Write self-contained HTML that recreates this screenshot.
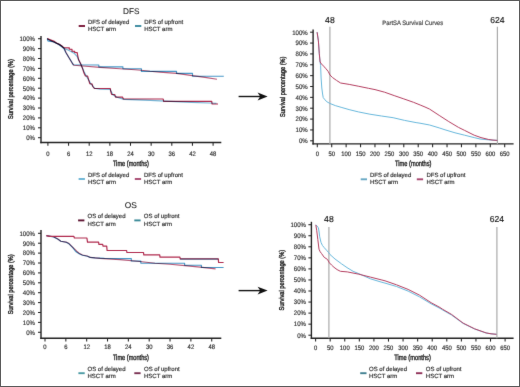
<!DOCTYPE html><html><head><meta charset="utf-8"><style>html,body{margin:0;padding:0;background:#fff;font-family:"Liberation Sans",sans-serif;}svg{display:block;will-change:transform;text-rendering:geometricPrecision;}</style></head><body>
<svg width="520" height="387" viewBox="0 0 520 387" font-family="&quot;Liberation Sans&quot;, sans-serif">
<defs><filter id="bl" color-interpolation-filters="sRGB" filterUnits="userSpaceOnUse" x="0" y="0" width="520" height="387"><feConvolveMatrix order="3" kernelMatrix="0.00524 0.06192 0.00524 0.06192 0.73137 0.06192 0.00524 0.06192 0.00524" divisor="1" edgeMode="duplicate" preserveAlpha="true"/></filter></defs>
<rect x="0" y="0" width="520" height="387" fill="#fff"/>
<g filter="url(#bl)">
<rect x="0" y="0" width="520" height="387" fill="#fff"/>
<text x="131.2" y="13.8" font-size="8.2" text-anchor="middle" fill="#222" stroke="#222" stroke-width="0.1">DFS</text>
<rect x="78.7" y="25.05" width="6.3" height="1.9" fill="#7a1838"/>
<rect x="135.0" y="25.05" width="6.3" height="1.9" fill="#3a8a9f"/>
<text x="87.9" y="24.00" font-size="6.0" text-anchor="start" fill="#2e2e2e" stroke="#2e2e2e" stroke-width="0.17">DFS of delayed</text>
<text x="87.9" y="31.10" font-size="6.0" text-anchor="start" fill="#2e2e2e" stroke="#2e2e2e" stroke-width="0.17">HSCT arm</text>
<text x="144.2" y="24.00" font-size="6.0" text-anchor="start" fill="#2e2e2e" stroke="#2e2e2e" stroke-width="0.17">DFS of upfront</text>
<text x="144.2" y="31.10" font-size="6.0" text-anchor="start" fill="#2e2e2e" stroke="#2e2e2e" stroke-width="0.17">HSCT arm</text>
<line x1="41.0" y1="36.0" x2="41.0" y2="143.2" stroke="#222" stroke-width="1.4"/>
<line x1="40.3" y1="142.5" x2="221.3" y2="142.5" stroke="#222" stroke-width="1.4"/>
<line x1="38" y1="137.70" x2="41.0" y2="137.70" stroke="#222" stroke-width="1.05"/>
<text transform="translate(35.0,140.00) scale(0.92,1)" font-size="6.6" text-anchor="end" fill="#2e2e2e" stroke="#2e2e2e" stroke-width="0.17">0%</text>
<line x1="38" y1="127.80" x2="41.0" y2="127.80" stroke="#222" stroke-width="1.05"/>
<text transform="translate(35.0,130.10) scale(0.92,1)" font-size="6.6" text-anchor="end" fill="#2e2e2e" stroke="#2e2e2e" stroke-width="0.17">10%</text>
<line x1="38" y1="117.90" x2="41.0" y2="117.90" stroke="#222" stroke-width="1.05"/>
<text transform="translate(35.0,120.20) scale(0.92,1)" font-size="6.6" text-anchor="end" fill="#2e2e2e" stroke="#2e2e2e" stroke-width="0.17">20%</text>
<line x1="38" y1="108.00" x2="41.0" y2="108.00" stroke="#222" stroke-width="1.05"/>
<text transform="translate(35.0,110.30) scale(0.92,1)" font-size="6.6" text-anchor="end" fill="#2e2e2e" stroke="#2e2e2e" stroke-width="0.17">30%</text>
<line x1="38" y1="98.10" x2="41.0" y2="98.10" stroke="#222" stroke-width="1.05"/>
<text transform="translate(35.0,100.40) scale(0.92,1)" font-size="6.6" text-anchor="end" fill="#2e2e2e" stroke="#2e2e2e" stroke-width="0.17">40%</text>
<line x1="38" y1="88.20" x2="41.0" y2="88.20" stroke="#222" stroke-width="1.05"/>
<text transform="translate(35.0,90.50) scale(0.92,1)" font-size="6.6" text-anchor="end" fill="#2e2e2e" stroke="#2e2e2e" stroke-width="0.17">50%</text>
<line x1="38" y1="78.30" x2="41.0" y2="78.30" stroke="#222" stroke-width="1.05"/>
<text transform="translate(35.0,80.60) scale(0.92,1)" font-size="6.6" text-anchor="end" fill="#2e2e2e" stroke="#2e2e2e" stroke-width="0.17">60%</text>
<line x1="38" y1="68.40" x2="41.0" y2="68.40" stroke="#222" stroke-width="1.05"/>
<text transform="translate(35.0,70.70) scale(0.92,1)" font-size="6.6" text-anchor="end" fill="#2e2e2e" stroke="#2e2e2e" stroke-width="0.17">70%</text>
<line x1="38" y1="58.50" x2="41.0" y2="58.50" stroke="#222" stroke-width="1.05"/>
<text transform="translate(35.0,60.80) scale(0.92,1)" font-size="6.6" text-anchor="end" fill="#2e2e2e" stroke="#2e2e2e" stroke-width="0.17">80%</text>
<line x1="38" y1="48.60" x2="41.0" y2="48.60" stroke="#222" stroke-width="1.05"/>
<text transform="translate(35.0,50.90) scale(0.92,1)" font-size="6.6" text-anchor="end" fill="#2e2e2e" stroke="#2e2e2e" stroke-width="0.17">90%</text>
<line x1="38" y1="38.70" x2="41.0" y2="38.70" stroke="#222" stroke-width="1.05"/>
<text transform="translate(35.0,41.00) scale(0.92,1)" font-size="6.6" text-anchor="end" fill="#2e2e2e" stroke="#2e2e2e" stroke-width="0.17">100%</text>
<line x1="47.90" y1="142.5" x2="47.90" y2="145.8" stroke="#222" stroke-width="1.05"/>
<text transform="translate(47.90,155.60) scale(0.92,1)" font-size="6.4" text-anchor="middle" fill="#2e2e2e" stroke="#2e2e2e" stroke-width="0.17">0</text>
<line x1="68.55" y1="142.5" x2="68.55" y2="145.8" stroke="#222" stroke-width="1.05"/>
<text transform="translate(68.55,155.60) scale(0.92,1)" font-size="6.4" text-anchor="middle" fill="#2e2e2e" stroke="#2e2e2e" stroke-width="0.17">6</text>
<line x1="89.20" y1="142.5" x2="89.20" y2="145.8" stroke="#222" stroke-width="1.05"/>
<text transform="translate(89.20,155.60) scale(0.92,1)" font-size="6.4" text-anchor="middle" fill="#2e2e2e" stroke="#2e2e2e" stroke-width="0.17">12</text>
<line x1="109.85" y1="142.5" x2="109.85" y2="145.8" stroke="#222" stroke-width="1.05"/>
<text transform="translate(109.85,155.60) scale(0.92,1)" font-size="6.4" text-anchor="middle" fill="#2e2e2e" stroke="#2e2e2e" stroke-width="0.17">18</text>
<line x1="130.50" y1="142.5" x2="130.50" y2="145.8" stroke="#222" stroke-width="1.05"/>
<text transform="translate(130.50,155.60) scale(0.92,1)" font-size="6.4" text-anchor="middle" fill="#2e2e2e" stroke="#2e2e2e" stroke-width="0.17">24</text>
<line x1="151.15" y1="142.5" x2="151.15" y2="145.8" stroke="#222" stroke-width="1.05"/>
<text transform="translate(151.15,155.60) scale(0.92,1)" font-size="6.4" text-anchor="middle" fill="#2e2e2e" stroke="#2e2e2e" stroke-width="0.17">30</text>
<line x1="171.80" y1="142.5" x2="171.80" y2="145.8" stroke="#222" stroke-width="1.05"/>
<text transform="translate(171.80,155.60) scale(0.92,1)" font-size="6.4" text-anchor="middle" fill="#2e2e2e" stroke="#2e2e2e" stroke-width="0.17">36</text>
<line x1="192.45" y1="142.5" x2="192.45" y2="145.8" stroke="#222" stroke-width="1.05"/>
<text transform="translate(192.45,155.60) scale(0.92,1)" font-size="6.4" text-anchor="middle" fill="#2e2e2e" stroke="#2e2e2e" stroke-width="0.17">42</text>
<line x1="213.10" y1="142.5" x2="213.10" y2="145.8" stroke="#222" stroke-width="1.05"/>
<text transform="translate(213.10,155.60) scale(0.92,1)" font-size="6.4" text-anchor="middle" fill="#2e2e2e" stroke="#2e2e2e" stroke-width="0.17">48</text>
<text x="112.9" y="165.80" font-size="7.6" text-anchor="start" fill="#2a2a2a" font-weight="normal" textLength="36.1" lengthAdjust="spacingAndGlyphs" stroke="#222" stroke-width="0.38">Time (months)</text>
<g transform="translate(13.3,89.10) rotate(-90)">
<text x="-30.0" y="0" font-size="7.0" text-anchor="start" fill="#2a2a2a" font-weight="normal" textLength="60" lengthAdjust="spacingAndGlyphs" stroke="#222" stroke-width="0.38">Survival percentage (%)</text>
</g>
<rect x="78.6" y="178.05" width="6.3" height="1.9" fill="#6ab4d4"/>
<rect x="134.8" y="178.05" width="6.3" height="1.9" fill="#a84a72"/>
<text x="87.9" y="177.00" font-size="6.0" text-anchor="start" fill="#2e2e2e" stroke="#2e2e2e" stroke-width="0.17">DFS of delayed</text>
<text x="87.9" y="184.10" font-size="6.0" text-anchor="start" fill="#2e2e2e" stroke="#2e2e2e" stroke-width="0.17">HSCT arm</text>
<text x="144.0" y="177.00" font-size="6.0" text-anchor="start" fill="#2e2e2e" stroke="#2e2e2e" stroke-width="0.17">DFS of upfront</text>
<text x="144.0" y="184.10" font-size="6.0" text-anchor="start" fill="#2e2e2e" stroke="#2e2e2e" stroke-width="0.17">HSCT arm</text>
<line x1="238.6" y1="96.5" x2="261" y2="96.5" stroke="#111" stroke-width="1.4"/>
<path d="M267.6,96.5 L257.6,92.6 L260.2,96.5 L257.6,100.4 Z" fill="#111"/>
<line x1="238.6" y1="290.6" x2="261" y2="290.6" stroke="#111" stroke-width="1.4"/>
<path d="M267.6,290.6 L257.6,286.70000000000005 L260.2,290.6 L257.6,294.5 Z" fill="#111"/>
<text x="382.3" y="24.7" font-size="6.3" text-anchor="start" fill="#3a3a3a" font-weight="normal" textLength="61" lengthAdjust="spacingAndGlyphs" stroke="#3a3a3a" stroke-width="0.15">PartSA Survival Curves</text>
<line x1="313.1" y1="29.4" x2="313.1" y2="144.6" stroke="#222" stroke-width="1.4"/>
<line x1="312.40000000000003" y1="143.9" x2="513.6" y2="143.9" stroke="#222" stroke-width="1.4"/>
<line x1="310.1" y1="140.80" x2="313.1" y2="140.80" stroke="#222" stroke-width="1.05"/>
<text transform="translate(307.70,143.10) scale(0.92,1)" font-size="6.6" text-anchor="end" fill="#2e2e2e" stroke="#2e2e2e" stroke-width="0.17">0%</text>
<line x1="310.1" y1="129.94" x2="313.1" y2="129.94" stroke="#222" stroke-width="1.05"/>
<text transform="translate(307.70,132.24) scale(0.92,1)" font-size="6.6" text-anchor="end" fill="#2e2e2e" stroke="#2e2e2e" stroke-width="0.17">10%</text>
<line x1="310.1" y1="119.08" x2="313.1" y2="119.08" stroke="#222" stroke-width="1.05"/>
<text transform="translate(307.70,121.38) scale(0.92,1)" font-size="6.6" text-anchor="end" fill="#2e2e2e" stroke="#2e2e2e" stroke-width="0.17">20%</text>
<line x1="310.1" y1="108.22" x2="313.1" y2="108.22" stroke="#222" stroke-width="1.05"/>
<text transform="translate(307.70,110.52) scale(0.92,1)" font-size="6.6" text-anchor="end" fill="#2e2e2e" stroke="#2e2e2e" stroke-width="0.17">30%</text>
<line x1="310.1" y1="97.36" x2="313.1" y2="97.36" stroke="#222" stroke-width="1.05"/>
<text transform="translate(307.70,99.66) scale(0.92,1)" font-size="6.6" text-anchor="end" fill="#2e2e2e" stroke="#2e2e2e" stroke-width="0.17">40%</text>
<line x1="310.1" y1="86.50" x2="313.1" y2="86.50" stroke="#222" stroke-width="1.05"/>
<text transform="translate(307.70,88.80) scale(0.92,1)" font-size="6.6" text-anchor="end" fill="#2e2e2e" stroke="#2e2e2e" stroke-width="0.17">50%</text>
<line x1="310.1" y1="75.64" x2="313.1" y2="75.64" stroke="#222" stroke-width="1.05"/>
<text transform="translate(307.70,77.94) scale(0.92,1)" font-size="6.6" text-anchor="end" fill="#2e2e2e" stroke="#2e2e2e" stroke-width="0.17">60%</text>
<line x1="310.1" y1="64.78" x2="313.1" y2="64.78" stroke="#222" stroke-width="1.05"/>
<text transform="translate(307.70,67.08) scale(0.92,1)" font-size="6.6" text-anchor="end" fill="#2e2e2e" stroke="#2e2e2e" stroke-width="0.17">70%</text>
<line x1="310.1" y1="53.92" x2="313.1" y2="53.92" stroke="#222" stroke-width="1.05"/>
<text transform="translate(307.70,56.22) scale(0.92,1)" font-size="6.6" text-anchor="end" fill="#2e2e2e" stroke="#2e2e2e" stroke-width="0.17">80%</text>
<line x1="310.1" y1="43.06" x2="313.1" y2="43.06" stroke="#222" stroke-width="1.05"/>
<text transform="translate(307.70,45.36) scale(0.92,1)" font-size="6.6" text-anchor="end" fill="#2e2e2e" stroke="#2e2e2e" stroke-width="0.17">90%</text>
<line x1="310.1" y1="32.20" x2="313.1" y2="32.20" stroke="#222" stroke-width="1.05"/>
<text transform="translate(307.70,34.50) scale(0.92,1)" font-size="6.6" text-anchor="end" fill="#2e2e2e" stroke="#2e2e2e" stroke-width="0.17">100%</text>
<line x1="317.30" y1="143.9" x2="317.30" y2="147.20000000000002" stroke="#222" stroke-width="1.05"/>
<text transform="translate(317.30,155.60) scale(0.92,1)" font-size="6.4" text-anchor="middle" fill="#2e2e2e" stroke="#2e2e2e" stroke-width="0.17">0</text>
<line x1="331.72" y1="143.9" x2="331.72" y2="147.20000000000002" stroke="#222" stroke-width="1.05"/>
<text transform="translate(331.72,155.60) scale(0.92,1)" font-size="6.4" text-anchor="middle" fill="#2e2e2e" stroke="#2e2e2e" stroke-width="0.17">50</text>
<line x1="346.13" y1="143.9" x2="346.13" y2="147.20000000000002" stroke="#222" stroke-width="1.05"/>
<text transform="translate(346.13,155.60) scale(0.92,1)" font-size="6.4" text-anchor="middle" fill="#2e2e2e" stroke="#2e2e2e" stroke-width="0.17">100</text>
<line x1="360.55" y1="143.9" x2="360.55" y2="147.20000000000002" stroke="#222" stroke-width="1.05"/>
<text transform="translate(360.55,155.60) scale(0.92,1)" font-size="6.4" text-anchor="middle" fill="#2e2e2e" stroke="#2e2e2e" stroke-width="0.17">150</text>
<line x1="374.96" y1="143.9" x2="374.96" y2="147.20000000000002" stroke="#222" stroke-width="1.05"/>
<text transform="translate(374.96,155.60) scale(0.92,1)" font-size="6.4" text-anchor="middle" fill="#2e2e2e" stroke="#2e2e2e" stroke-width="0.17">200</text>
<line x1="389.38" y1="143.9" x2="389.38" y2="147.20000000000002" stroke="#222" stroke-width="1.05"/>
<text transform="translate(389.38,155.60) scale(0.92,1)" font-size="6.4" text-anchor="middle" fill="#2e2e2e" stroke="#2e2e2e" stroke-width="0.17">250</text>
<line x1="403.79" y1="143.9" x2="403.79" y2="147.20000000000002" stroke="#222" stroke-width="1.05"/>
<text transform="translate(403.79,155.60) scale(0.92,1)" font-size="6.4" text-anchor="middle" fill="#2e2e2e" stroke="#2e2e2e" stroke-width="0.17">300</text>
<line x1="418.21" y1="143.9" x2="418.21" y2="147.20000000000002" stroke="#222" stroke-width="1.05"/>
<text transform="translate(418.21,155.60) scale(0.92,1)" font-size="6.4" text-anchor="middle" fill="#2e2e2e" stroke="#2e2e2e" stroke-width="0.17">350</text>
<line x1="432.62" y1="143.9" x2="432.62" y2="147.20000000000002" stroke="#222" stroke-width="1.05"/>
<text transform="translate(432.62,155.60) scale(0.92,1)" font-size="6.4" text-anchor="middle" fill="#2e2e2e" stroke="#2e2e2e" stroke-width="0.17">400</text>
<line x1="447.04" y1="143.9" x2="447.04" y2="147.20000000000002" stroke="#222" stroke-width="1.05"/>
<text transform="translate(447.04,155.60) scale(0.92,1)" font-size="6.4" text-anchor="middle" fill="#2e2e2e" stroke="#2e2e2e" stroke-width="0.17">450</text>
<line x1="461.45" y1="143.9" x2="461.45" y2="147.20000000000002" stroke="#222" stroke-width="1.05"/>
<text transform="translate(461.45,155.60) scale(0.92,1)" font-size="6.4" text-anchor="middle" fill="#2e2e2e" stroke="#2e2e2e" stroke-width="0.17">500</text>
<line x1="475.87" y1="143.9" x2="475.87" y2="147.20000000000002" stroke="#222" stroke-width="1.05"/>
<text transform="translate(475.87,155.60) scale(0.92,1)" font-size="6.4" text-anchor="middle" fill="#2e2e2e" stroke="#2e2e2e" stroke-width="0.17">550</text>
<line x1="490.28" y1="143.9" x2="490.28" y2="147.20000000000002" stroke="#222" stroke-width="1.05"/>
<text transform="translate(490.28,155.60) scale(0.92,1)" font-size="6.4" text-anchor="middle" fill="#2e2e2e" stroke="#2e2e2e" stroke-width="0.17">600</text>
<line x1="504.70" y1="143.9" x2="504.70" y2="147.20000000000002" stroke="#222" stroke-width="1.05"/>
<text transform="translate(504.70,155.60) scale(0.92,1)" font-size="6.4" text-anchor="middle" fill="#2e2e2e" stroke="#2e2e2e" stroke-width="0.17">650</text>
<line x1="329.9" y1="26.8" x2="329.9" y2="143.9" stroke="#aaaaaa" stroke-width="1.2"/>
<line x1="497.4" y1="26.8" x2="497.4" y2="143.9" stroke="#aaaaaa" stroke-width="1.2"/>
<text x="329.9" y="22.70" font-size="8.6" text-anchor="middle" fill="#1a1a1a" stroke="#1a1a1a" stroke-width="0.15">48</text>
<text x="497.4" y="22.70" font-size="8.6" text-anchor="middle" fill="#1a1a1a" stroke="#1a1a1a" stroke-width="0.15">624</text>
<text x="395.0" y="165.50" font-size="7.6" text-anchor="start" fill="#2a2a2a" font-weight="normal" textLength="36.5" lengthAdjust="spacingAndGlyphs" stroke="#222" stroke-width="0.38">Time (months)</text>
<g transform="translate(285.00,86.75) rotate(-90)">
<text x="-30.25" y="0" font-size="7.0" text-anchor="start" fill="#2a2a2a" font-weight="normal" textLength="60.5" lengthAdjust="spacingAndGlyphs" stroke="#222" stroke-width="0.38">Survival percentage (%)</text>
</g>
<rect x="360.7" y="178.35" width="6.3" height="1.9" fill="#68a8c4"/>
<rect x="416.8" y="178.35" width="6.3" height="1.9" fill="#a84870"/>
<text x="369.9" y="177.30" font-size="6.0" text-anchor="start" fill="#2e2e2e" stroke="#2e2e2e" stroke-width="0.17">DFS of delayed</text>
<text x="369.9" y="184.40" font-size="6.0" text-anchor="start" fill="#2e2e2e" stroke="#2e2e2e" stroke-width="0.17">HSCT arm</text>
<text x="426.4" y="177.30" font-size="6.0" text-anchor="start" fill="#2e2e2e" stroke="#2e2e2e" stroke-width="0.17">DFS of upfront</text>
<text x="426.4" y="184.40" font-size="6.0" text-anchor="start" fill="#2e2e2e" stroke="#2e2e2e" stroke-width="0.17">HSCT arm</text>
<text x="130.7" y="207.6" font-size="8.4" text-anchor="middle" fill="#222" stroke="#222" stroke-width="0.1">OS</text>
<rect x="78.1" y="219.45" width="6.3" height="1.9" fill="#5e1432"/>
<rect x="134.3" y="219.45" width="6.3" height="1.9" fill="#3a8a98"/>
<text x="87.5" y="218.40" font-size="6.0" text-anchor="start" fill="#2e2e2e" stroke="#2e2e2e" stroke-width="0.17">OS of delayed</text>
<text x="87.5" y="225.50" font-size="6.0" text-anchor="start" fill="#2e2e2e" stroke="#2e2e2e" stroke-width="0.17">HSCT arm</text>
<text x="143.8" y="218.40" font-size="6.0" text-anchor="start" fill="#2e2e2e" stroke="#2e2e2e" stroke-width="0.17">OS of upfront</text>
<text x="143.8" y="225.50" font-size="6.0" text-anchor="start" fill="#2e2e2e" stroke="#2e2e2e" stroke-width="0.17">HSCT arm</text>
<line x1="41.0" y1="229.9" x2="41.0" y2="338.9" stroke="#222" stroke-width="1.4"/>
<line x1="40.3" y1="338.2" x2="221.3" y2="338.2" stroke="#222" stroke-width="1.4"/>
<line x1="38" y1="332.30" x2="41.0" y2="332.30" stroke="#222" stroke-width="1.05"/>
<text transform="translate(35.0,334.60) scale(0.92,1)" font-size="6.6" text-anchor="end" fill="#2e2e2e" stroke="#2e2e2e" stroke-width="0.17">0%</text>
<line x1="38" y1="322.40" x2="41.0" y2="322.40" stroke="#222" stroke-width="1.05"/>
<text transform="translate(35.0,324.70) scale(0.92,1)" font-size="6.6" text-anchor="end" fill="#2e2e2e" stroke="#2e2e2e" stroke-width="0.17">10%</text>
<line x1="38" y1="312.50" x2="41.0" y2="312.50" stroke="#222" stroke-width="1.05"/>
<text transform="translate(35.0,314.80) scale(0.92,1)" font-size="6.6" text-anchor="end" fill="#2e2e2e" stroke="#2e2e2e" stroke-width="0.17">20%</text>
<line x1="38" y1="302.60" x2="41.0" y2="302.60" stroke="#222" stroke-width="1.05"/>
<text transform="translate(35.0,304.90) scale(0.92,1)" font-size="6.6" text-anchor="end" fill="#2e2e2e" stroke="#2e2e2e" stroke-width="0.17">30%</text>
<line x1="38" y1="292.70" x2="41.0" y2="292.70" stroke="#222" stroke-width="1.05"/>
<text transform="translate(35.0,295.00) scale(0.92,1)" font-size="6.6" text-anchor="end" fill="#2e2e2e" stroke="#2e2e2e" stroke-width="0.17">40%</text>
<line x1="38" y1="282.80" x2="41.0" y2="282.80" stroke="#222" stroke-width="1.05"/>
<text transform="translate(35.0,285.10) scale(0.92,1)" font-size="6.6" text-anchor="end" fill="#2e2e2e" stroke="#2e2e2e" stroke-width="0.17">50%</text>
<line x1="38" y1="272.90" x2="41.0" y2="272.90" stroke="#222" stroke-width="1.05"/>
<text transform="translate(35.0,275.20) scale(0.92,1)" font-size="6.6" text-anchor="end" fill="#2e2e2e" stroke="#2e2e2e" stroke-width="0.17">60%</text>
<line x1="38" y1="263.00" x2="41.0" y2="263.00" stroke="#222" stroke-width="1.05"/>
<text transform="translate(35.0,265.30) scale(0.92,1)" font-size="6.6" text-anchor="end" fill="#2e2e2e" stroke="#2e2e2e" stroke-width="0.17">70%</text>
<line x1="38" y1="253.10" x2="41.0" y2="253.10" stroke="#222" stroke-width="1.05"/>
<text transform="translate(35.0,255.40) scale(0.92,1)" font-size="6.6" text-anchor="end" fill="#2e2e2e" stroke="#2e2e2e" stroke-width="0.17">80%</text>
<line x1="38" y1="243.20" x2="41.0" y2="243.20" stroke="#222" stroke-width="1.05"/>
<text transform="translate(35.0,245.50) scale(0.92,1)" font-size="6.6" text-anchor="end" fill="#2e2e2e" stroke="#2e2e2e" stroke-width="0.17">90%</text>
<line x1="38" y1="233.30" x2="41.0" y2="233.30" stroke="#222" stroke-width="1.05"/>
<text transform="translate(35.0,235.60) scale(0.92,1)" font-size="6.6" text-anchor="end" fill="#2e2e2e" stroke="#2e2e2e" stroke-width="0.17">100%</text>
<line x1="45.00" y1="338.2" x2="45.00" y2="341.5" stroke="#222" stroke-width="1.05"/>
<text transform="translate(45.00,349.40) scale(0.92,1)" font-size="6.4" text-anchor="middle" fill="#2e2e2e" stroke="#2e2e2e" stroke-width="0.17">0</text>
<line x1="65.84" y1="338.2" x2="65.84" y2="341.5" stroke="#222" stroke-width="1.05"/>
<text transform="translate(65.84,349.40) scale(0.92,1)" font-size="6.4" text-anchor="middle" fill="#2e2e2e" stroke="#2e2e2e" stroke-width="0.17">6</text>
<line x1="86.68" y1="338.2" x2="86.68" y2="341.5" stroke="#222" stroke-width="1.05"/>
<text transform="translate(86.68,349.40) scale(0.92,1)" font-size="6.4" text-anchor="middle" fill="#2e2e2e" stroke="#2e2e2e" stroke-width="0.17">12</text>
<line x1="107.52" y1="338.2" x2="107.52" y2="341.5" stroke="#222" stroke-width="1.05"/>
<text transform="translate(107.52,349.40) scale(0.92,1)" font-size="6.4" text-anchor="middle" fill="#2e2e2e" stroke="#2e2e2e" stroke-width="0.17">18</text>
<line x1="128.36" y1="338.2" x2="128.36" y2="341.5" stroke="#222" stroke-width="1.05"/>
<text transform="translate(128.36,349.40) scale(0.92,1)" font-size="6.4" text-anchor="middle" fill="#2e2e2e" stroke="#2e2e2e" stroke-width="0.17">24</text>
<line x1="149.20" y1="338.2" x2="149.20" y2="341.5" stroke="#222" stroke-width="1.05"/>
<text transform="translate(149.20,349.40) scale(0.92,1)" font-size="6.4" text-anchor="middle" fill="#2e2e2e" stroke="#2e2e2e" stroke-width="0.17">30</text>
<line x1="170.04" y1="338.2" x2="170.04" y2="341.5" stroke="#222" stroke-width="1.05"/>
<text transform="translate(170.04,349.40) scale(0.92,1)" font-size="6.4" text-anchor="middle" fill="#2e2e2e" stroke="#2e2e2e" stroke-width="0.17">36</text>
<line x1="190.88" y1="338.2" x2="190.88" y2="341.5" stroke="#222" stroke-width="1.05"/>
<text transform="translate(190.88,349.40) scale(0.92,1)" font-size="6.4" text-anchor="middle" fill="#2e2e2e" stroke="#2e2e2e" stroke-width="0.17">42</text>
<line x1="211.72" y1="338.2" x2="211.72" y2="341.5" stroke="#222" stroke-width="1.05"/>
<text transform="translate(211.72,349.40) scale(0.92,1)" font-size="6.4" text-anchor="middle" fill="#2e2e2e" stroke="#2e2e2e" stroke-width="0.17">48</text>
<text x="112.9" y="360.00" font-size="7.6" text-anchor="start" fill="#2a2a2a" font-weight="normal" textLength="36.1" lengthAdjust="spacingAndGlyphs" stroke="#222" stroke-width="0.38">Time (months)</text>
<g transform="translate(13.3,284.30) rotate(-90)">
<text x="-30.0" y="0" font-size="7.0" text-anchor="start" fill="#2a2a2a" font-weight="normal" textLength="60" lengthAdjust="spacingAndGlyphs" stroke="#222" stroke-width="0.38">Survival percentage (%)</text>
</g>
<rect x="78.4" y="372.25" width="6.3" height="1.9" fill="#4a9aa4"/>
<rect x="134.3" y="372.25" width="6.3" height="1.9" fill="#7a3052"/>
<text x="87.5" y="371.20" font-size="6.0" text-anchor="start" fill="#2e2e2e" stroke="#2e2e2e" stroke-width="0.17">OS of delayed</text>
<text x="87.5" y="378.30" font-size="6.0" text-anchor="start" fill="#2e2e2e" stroke="#2e2e2e" stroke-width="0.17">HSCT arm</text>
<text x="144.0" y="371.20" font-size="6.0" text-anchor="start" fill="#2e2e2e" stroke="#2e2e2e" stroke-width="0.17">OS of upfront</text>
<text x="144.0" y="378.30" font-size="6.0" text-anchor="start" fill="#2e2e2e" stroke="#2e2e2e" stroke-width="0.17">HSCT arm</text>
<line x1="311.4" y1="221.8" x2="311.4" y2="339.0" stroke="#222" stroke-width="1.4"/>
<line x1="310.7" y1="338.3" x2="513.6" y2="338.3" stroke="#222" stroke-width="1.4"/>
<line x1="308.4" y1="335.20" x2="311.4" y2="335.20" stroke="#222" stroke-width="1.05"/>
<text transform="translate(306.00,337.50) scale(0.92,1)" font-size="6.6" text-anchor="end" fill="#2e2e2e" stroke="#2e2e2e" stroke-width="0.17">0%</text>
<line x1="308.4" y1="324.15" x2="311.4" y2="324.15" stroke="#222" stroke-width="1.05"/>
<text transform="translate(306.00,326.45) scale(0.92,1)" font-size="6.6" text-anchor="end" fill="#2e2e2e" stroke="#2e2e2e" stroke-width="0.17">10%</text>
<line x1="308.4" y1="313.10" x2="311.4" y2="313.10" stroke="#222" stroke-width="1.05"/>
<text transform="translate(306.00,315.40) scale(0.92,1)" font-size="6.6" text-anchor="end" fill="#2e2e2e" stroke="#2e2e2e" stroke-width="0.17">20%</text>
<line x1="308.4" y1="302.05" x2="311.4" y2="302.05" stroke="#222" stroke-width="1.05"/>
<text transform="translate(306.00,304.35) scale(0.92,1)" font-size="6.6" text-anchor="end" fill="#2e2e2e" stroke="#2e2e2e" stroke-width="0.17">30%</text>
<line x1="308.4" y1="291.00" x2="311.4" y2="291.00" stroke="#222" stroke-width="1.05"/>
<text transform="translate(306.00,293.30) scale(0.92,1)" font-size="6.6" text-anchor="end" fill="#2e2e2e" stroke="#2e2e2e" stroke-width="0.17">40%</text>
<line x1="308.4" y1="279.95" x2="311.4" y2="279.95" stroke="#222" stroke-width="1.05"/>
<text transform="translate(306.00,282.25) scale(0.92,1)" font-size="6.6" text-anchor="end" fill="#2e2e2e" stroke="#2e2e2e" stroke-width="0.17">50%</text>
<line x1="308.4" y1="268.90" x2="311.4" y2="268.90" stroke="#222" stroke-width="1.05"/>
<text transform="translate(306.00,271.20) scale(0.92,1)" font-size="6.6" text-anchor="end" fill="#2e2e2e" stroke="#2e2e2e" stroke-width="0.17">60%</text>
<line x1="308.4" y1="257.85" x2="311.4" y2="257.85" stroke="#222" stroke-width="1.05"/>
<text transform="translate(306.00,260.15) scale(0.92,1)" font-size="6.6" text-anchor="end" fill="#2e2e2e" stroke="#2e2e2e" stroke-width="0.17">70%</text>
<line x1="308.4" y1="246.80" x2="311.4" y2="246.80" stroke="#222" stroke-width="1.05"/>
<text transform="translate(306.00,249.10) scale(0.92,1)" font-size="6.6" text-anchor="end" fill="#2e2e2e" stroke="#2e2e2e" stroke-width="0.17">80%</text>
<line x1="308.4" y1="235.75" x2="311.4" y2="235.75" stroke="#222" stroke-width="1.05"/>
<text transform="translate(306.00,238.05) scale(0.92,1)" font-size="6.6" text-anchor="end" fill="#2e2e2e" stroke="#2e2e2e" stroke-width="0.17">90%</text>
<line x1="308.4" y1="224.70" x2="311.4" y2="224.70" stroke="#222" stroke-width="1.05"/>
<text transform="translate(306.00,227.00) scale(0.92,1)" font-size="6.6" text-anchor="end" fill="#2e2e2e" stroke="#2e2e2e" stroke-width="0.17">100%</text>
<line x1="315.60" y1="338.3" x2="315.60" y2="341.6" stroke="#222" stroke-width="1.05"/>
<text transform="translate(315.60,350.00) scale(0.92,1)" font-size="6.4" text-anchor="middle" fill="#2e2e2e" stroke="#2e2e2e" stroke-width="0.17">0</text>
<line x1="330.18" y1="338.3" x2="330.18" y2="341.6" stroke="#222" stroke-width="1.05"/>
<text transform="translate(330.18,350.00) scale(0.92,1)" font-size="6.4" text-anchor="middle" fill="#2e2e2e" stroke="#2e2e2e" stroke-width="0.17">50</text>
<line x1="344.75" y1="338.3" x2="344.75" y2="341.6" stroke="#222" stroke-width="1.05"/>
<text transform="translate(344.75,350.00) scale(0.92,1)" font-size="6.4" text-anchor="middle" fill="#2e2e2e" stroke="#2e2e2e" stroke-width="0.17">100</text>
<line x1="359.33" y1="338.3" x2="359.33" y2="341.6" stroke="#222" stroke-width="1.05"/>
<text transform="translate(359.33,350.00) scale(0.92,1)" font-size="6.4" text-anchor="middle" fill="#2e2e2e" stroke="#2e2e2e" stroke-width="0.17">150</text>
<line x1="373.91" y1="338.3" x2="373.91" y2="341.6" stroke="#222" stroke-width="1.05"/>
<text transform="translate(373.91,350.00) scale(0.92,1)" font-size="6.4" text-anchor="middle" fill="#2e2e2e" stroke="#2e2e2e" stroke-width="0.17">200</text>
<line x1="388.48" y1="338.3" x2="388.48" y2="341.6" stroke="#222" stroke-width="1.05"/>
<text transform="translate(388.48,350.00) scale(0.92,1)" font-size="6.4" text-anchor="middle" fill="#2e2e2e" stroke="#2e2e2e" stroke-width="0.17">250</text>
<line x1="403.06" y1="338.3" x2="403.06" y2="341.6" stroke="#222" stroke-width="1.05"/>
<text transform="translate(403.06,350.00) scale(0.92,1)" font-size="6.4" text-anchor="middle" fill="#2e2e2e" stroke="#2e2e2e" stroke-width="0.17">300</text>
<line x1="417.64" y1="338.3" x2="417.64" y2="341.6" stroke="#222" stroke-width="1.05"/>
<text transform="translate(417.64,350.00) scale(0.92,1)" font-size="6.4" text-anchor="middle" fill="#2e2e2e" stroke="#2e2e2e" stroke-width="0.17">350</text>
<line x1="432.22" y1="338.3" x2="432.22" y2="341.6" stroke="#222" stroke-width="1.05"/>
<text transform="translate(432.22,350.00) scale(0.92,1)" font-size="6.4" text-anchor="middle" fill="#2e2e2e" stroke="#2e2e2e" stroke-width="0.17">400</text>
<line x1="446.79" y1="338.3" x2="446.79" y2="341.6" stroke="#222" stroke-width="1.05"/>
<text transform="translate(446.79,350.00) scale(0.92,1)" font-size="6.4" text-anchor="middle" fill="#2e2e2e" stroke="#2e2e2e" stroke-width="0.17">450</text>
<line x1="461.37" y1="338.3" x2="461.37" y2="341.6" stroke="#222" stroke-width="1.05"/>
<text transform="translate(461.37,350.00) scale(0.92,1)" font-size="6.4" text-anchor="middle" fill="#2e2e2e" stroke="#2e2e2e" stroke-width="0.17">500</text>
<line x1="475.95" y1="338.3" x2="475.95" y2="341.6" stroke="#222" stroke-width="1.05"/>
<text transform="translate(475.95,350.00) scale(0.92,1)" font-size="6.4" text-anchor="middle" fill="#2e2e2e" stroke="#2e2e2e" stroke-width="0.17">550</text>
<line x1="490.52" y1="338.3" x2="490.52" y2="341.6" stroke="#222" stroke-width="1.05"/>
<text transform="translate(490.52,350.00) scale(0.92,1)" font-size="6.4" text-anchor="middle" fill="#2e2e2e" stroke="#2e2e2e" stroke-width="0.17">600</text>
<line x1="505.10" y1="338.3" x2="505.10" y2="341.6" stroke="#222" stroke-width="1.05"/>
<text transform="translate(505.10,350.00) scale(0.92,1)" font-size="6.4" text-anchor="middle" fill="#2e2e2e" stroke="#2e2e2e" stroke-width="0.17">650</text>
<line x1="328.9" y1="227.1" x2="328.9" y2="338.3" stroke="#aaaaaa" stroke-width="1.2"/>
<line x1="496.9" y1="227.1" x2="496.9" y2="338.3" stroke="#aaaaaa" stroke-width="1.2"/>
<text x="328.9" y="222.10" font-size="8.6" text-anchor="middle" fill="#1a1a1a" stroke="#1a1a1a" stroke-width="0.15">48</text>
<text x="496.9" y="222.10" font-size="8.6" text-anchor="middle" fill="#1a1a1a" stroke="#1a1a1a" stroke-width="0.15">624</text>
<text x="394.3" y="359.90" font-size="7.6" text-anchor="start" fill="#2a2a2a" font-weight="normal" textLength="36.5" lengthAdjust="spacingAndGlyphs" stroke="#222" stroke-width="0.38">Time (months)</text>
<g transform="translate(283.90,280.15) rotate(-90)">
<text x="-30.25" y="0" font-size="7.0" text-anchor="start" fill="#2a2a2a" font-weight="normal" textLength="60.5" lengthAdjust="spacingAndGlyphs" stroke="#222" stroke-width="0.38">Survival percentage (%)</text>
</g>
<rect x="360.2" y="372.25" width="6.3" height="1.9" fill="#3f7f90"/>
<rect x="416.0" y="372.25" width="6.3" height="1.9" fill="#903058"/>
<text x="369.0" y="371.20" font-size="6.0" text-anchor="start" fill="#2e2e2e" stroke="#2e2e2e" stroke-width="0.17">OS of delayed</text>
<text x="369.0" y="378.30" font-size="6.0" text-anchor="start" fill="#2e2e2e" stroke="#2e2e2e" stroke-width="0.17">HSCT arm</text>
<text x="425.8" y="371.20" font-size="6.0" text-anchor="start" fill="#2e2e2e" stroke="#2e2e2e" stroke-width="0.17">OS of upfront</text>
<text x="425.8" y="378.30" font-size="6.0" text-anchor="start" fill="#2e2e2e" stroke="#2e2e2e" stroke-width="0.17">HSCT arm</text>
<polyline points="47.3,39.0 52.0,41.2 58.0,44.0 63.5,48.2 67.0,49.6 71.0,51.6 74.5,53.6 77.2,56.5 78.8,60.2 81.0,64.8 84.0,71.5 86.5,76.5 89.0,80.5 91.0,84.0 94.5,88.2 100.0,89.2 110.0,89.5 113.0,94.8 117.0,97.3 124.0,99.4 150.0,100.4 191.5,102.4 208.8,103.0 216.5,103.3" fill="none" stroke="#74b6d6" stroke-width="1.15" stroke-linejoin="round" style="mix-blend-mode:multiply"/>
<polyline points="47.3,38.7 52.0,41.2 56.5,43.2 61.7,46.0 64.0,48.0 66.0,52.5 69.0,57.8 72.0,62.8 74.0,65.3 80.0,65.8 100.0,67.4 120.0,68.7 135.0,69.7 141.0,70.3 150.0,71.3 160.0,72.1 176.5,73.4 192.5,75.6 205.0,77.4 217.0,79.2" fill="none" stroke="#b85a78" stroke-width="1.15" stroke-linejoin="round" style="mix-blend-mode:multiply"/>
<polyline points="47.3,38.5 47.9,40.9 50.5,41.4 53.7,41.8 56.5,43.3 59.4,44.5 61.7,46.2 63.5,47.6 65.8,52.5 68.9,57.5 72.0,62.5 73.2,64.8 98.8,65.0 98.8,66.8 122.9,66.8 122.9,68.6 141.4,68.7 141.4,71.3 176.5,71.3 176.5,73.4 192.5,73.4 192.5,76.1 223.8,76.3" fill="none" stroke="#4898c8" stroke-width="1.15" stroke-linejoin="round" style="mix-blend-mode:multiply"/>
<polyline points="47.3,38.5 49.6,39.6 53.7,41.1 56.5,43.1 59.4,44.2 61.7,46.0 63.5,47.6 69.3,47.8 69.3,49.2 72.0,49.4 72.0,51.2 74.7,51.4 74.7,52.5 77.2,52.7 77.6,55.0 78.5,59.5 80.8,64.0 82.6,68.6 84.0,73.1 85.3,75.8 87.6,76.2 88.5,79.4 89.8,83.6 92.1,84.1 92.8,86.5 94.4,88.5 110.3,88.5 110.8,91.5 111.6,94.4 114.8,94.6 115.5,97.1 122.5,97.1 123.3,99.0 163.2,99.0 163.6,101.3 211.7,101.3 212.1,104.0 218.0,104.0" fill="none" stroke="#b02a4e" stroke-width="1.2" stroke-linejoin="round" style="mix-blend-mode:multiply"/>
<polyline points="317.1,32.2 318.4,40.9 319.3,53.8 320.1,62.0 320.6,65.5 321.1,78.0 321.8,88.0 322.6,94.0 323.2,97.5 324.9,99.8 327.0,101.8 329.5,103.3 335.3,105.6 341.1,107.3 349.1,109.6 358.4,111.9 369.9,114.2 381.5,116.0 393.1,117.7 404.6,120.4 416.1,122.6 420.0,123.2 429.6,125.0 439.2,127.9 445.0,129.8 455.0,132.8 464.6,135.2 474.2,137.6 480.0,139.0 486.0,139.6 492.0,140.1 497.3,140.4" fill="none" stroke="#68b8dc" stroke-width="1.0" stroke-linejoin="round" />
<polyline points="317.1,32.2 318.4,40.9 319.3,53.8 320.1,62.0 321.5,64.0 323.6,66.1 326.0,68.8 328.1,71.3 330.0,75.0 332.6,77.6 336.5,80.4 340.6,83.0 349.2,84.4 358.8,86.3 368.5,88.3 375.0,89.6 384.6,92.2 394.2,95.6 403.8,98.9 413.5,102.3 420.2,105.0 425.0,107.0 429.6,109.1 439.2,115.4 448.8,121.6 455.0,125.3 458.5,127.4 464.6,130.4 474.2,135.2 481.0,137.6 488.7,139.5 493.0,140.1 497.3,140.4" fill="none" stroke="#b43e60" stroke-width="1.0" stroke-linejoin="round" />
<polyline points="46.4,235.8 53.6,236.8 57.5,238.8 60.8,241.2 66.1,242.1 69.0,243.6 72.8,247.3 76.7,251.2 79.6,253.6 82.5,255.0 87.3,256.0 90.2,257.4 100.0,258.4 120.0,259.6 140.0,261.5 155.0,263.2 170.0,264.3 185.0,265.6 200.0,267.1 215.6,268.9" fill="none" stroke="#b85a78" stroke-width="1.15" stroke-linejoin="round" style="mix-blend-mode:multiply"/>
<polyline points="46.4,235.6 53.6,236.9 57.5,238.9 60.8,241.3 66.1,242.3 69.0,243.8 72.8,247.6 75.7,251.5 79.6,254.0 82.5,255.2 87.3,256.2 90.2,257.4 95.0,257.9 104.4,258.4 131.3,258.6 131.3,260.9 140.8,261.1 140.8,263.1 184.6,263.2 184.6,265.1 201.4,265.2 201.4,267.4 223.6,267.5" fill="none" stroke="#4898c8" stroke-width="1.15" stroke-linejoin="round" style="mix-blend-mode:multiply"/>
<polyline points="46.4,235.6 49.8,236.3 73.8,236.3 74.4,238.0 86.9,238.0 87.5,242.1 98.6,242.1 98.9,244.4 102.7,244.4 103.0,246.1 106.7,246.1 107.1,250.5 126.6,250.5 126.9,252.5 143.5,252.5 143.8,254.9 159.7,254.9 160.0,257.1 179.9,257.1 180.2,258.9 218.3,258.9 218.6,262.5 223.6,262.5" fill="none" stroke="#b02a4e" stroke-width="1.2" stroke-linejoin="round" />
<polyline points="180.2,259.1 218.3,259.1" fill="none" stroke="#74b6d6" stroke-width="1.1" stroke-linejoin="round" style="mix-blend-mode:multiply"/>
<polyline points="315.8,224.9 317.0,226.0 318.4,227.8 319.1,232.0 319.7,236.8 321.0,242.4 322.4,245.4 324.2,247.6 326.5,250.2 328.7,252.7 330.0,254.5 335.0,259.0 341.5,263.8 347.0,267.6 353.1,271.3 360.0,274.2 370.4,278.8 381.9,282.3 385.0,283.1 396.5,286.5 408.1,291.1 419.6,296.9 431.1,303.8 440.0,308.4 442.7,310.0 451.5,315.0 463.1,323.4 474.6,329.0 486.1,333.0 491.0,333.8 496.5,334.3" fill="none" stroke="#68b8dc" stroke-width="1.0" stroke-linejoin="round" />
<polyline points="315.8,224.9 316.7,230.3 317.8,239.4 319.0,249.2 320.2,251.8 321.6,253.6 324.2,257.3 327.4,259.4 329.4,262.8 331.5,265.0 334.0,267.3 337.1,269.6 340.4,271.3 347.3,271.9 358.8,274.2 370.4,277.1 381.9,280.0 385.0,280.8 396.5,284.8 408.1,289.4 419.6,295.2 431.1,302.7 440.0,307.5 442.7,309.3 451.5,314.4 463.1,323.1 474.6,328.8 486.1,332.9 491.0,333.8 496.5,334.3" fill="none" stroke="#b43e60" stroke-width="1.0" stroke-linejoin="round" />
</g>
<rect x="0.5" y="0.5" width="519" height="386" fill="none" stroke="#5a5a5a" stroke-width="1"/>
</svg></body></html>
